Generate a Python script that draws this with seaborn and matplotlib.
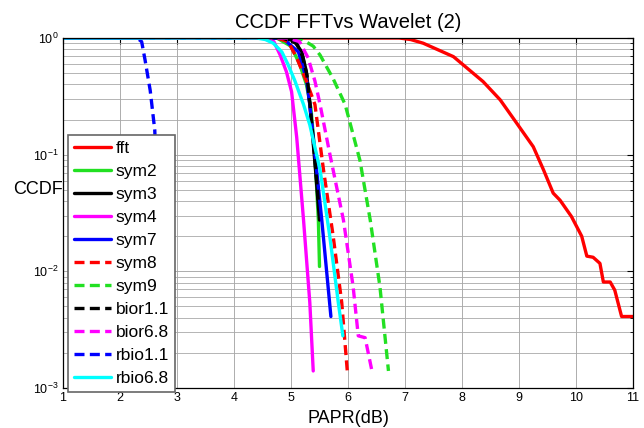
import matplotlib
matplotlib.use("Agg")
import matplotlib.pyplot as plt
import seaborn as sns
import pandas as pd
import numpy as np

# ---- data (PAPR in dB, CCDF values) ----
fft_x = [1, 6.9, 7.1, 7.32, 7.85, 8.37, 8.67, 8.96, 9.25, 9.43, 9.60, 9.72, 9.92, 10.10, 10.19, 10.30, 10.42, 10.48, 10.60, 10.68, 10.80, 11.0]
fft_y = [1, 1, 0.97, 0.902, 0.692, 0.423, 0.295, 0.186, 0.117, 0.0741, 0.0468, 0.0407, 0.0295, 0.0200, 0.0135, 0.0132, 0.0117, 0.0081, 0.0081, 0.0069, 0.0041, 0.0041]

sym2_x = [1, 4.75, 5.0, 5.15, 5.27, 5.35, 5.42, 5.48, 5.50]
sym2_y = [1, 1, 0.85, 0.60, 0.40, 0.25, 0.10, 0.0275, 0.011]

sym3_x = [1, 4.8, 5.05, 5.19, 5.27, 5.33, 5.42, 5.50]
sym3_y = [1, 1, 0.95, 0.759, 0.513, 0.269, 0.0851, 0.0275]

sym4_x = [1, 4.5, 4.7, 4.81, 4.92, 5.01, 5.10, 5.22, 5.33, 5.39]
sym4_y = [1, 1, 0.93, 0.714, 0.513, 0.347, 0.141, 0.0275, 0.0054, 0.0014]

sym7_x = [1, 4.85, 5.13, 5.27, 5.33, 5.39, 5.54, 5.70]
sym7_y = [1, 1, 0.759, 0.447, 0.269, 0.141, 0.0275, 0.0041]

sym8_x = [1, 4.75, 4.95, 5.10, 5.27, 5.42, 5.57, 5.74, 5.89, 5.99]
sym8_y = [1, 1, 0.93, 0.676, 0.427, 0.269, 0.0741, 0.0200, 0.0054, 0.00135]

sym9_x = [1, 4.9, 5.2, 5.39, 5.51, 5.74, 5.95, 6.21, 6.39, 6.56, 6.71]
sym9_y = [1, 1, 0.97, 0.851, 0.714, 0.447, 0.269, 0.0891, 0.0275, 0.0074, 0.0014]

bior11_x = [1, 4.85, 5.1, 5.2, 5.28, 5.34, 5.42, 5.48]
bior11_y = [1, 1, 0.9, 0.70, 0.48, 0.25, 0.09, 0.04]

bior68_x = [1, 4.95, 5.15, 5.30, 5.42, 5.51, 5.68, 5.92, 6.09, 6.18, 6.30, 6.42]
bior68_y = [1, 1, 0.93, 0.676, 0.427, 0.269, 0.102, 0.0275, 0.0074, 0.0028, 0.0027, 0.0014]

rbio11_x = [1, 2.3, 2.38, 2.44, 2.53, 2.61, 2.68, 2.75]
rbio11_y = [1, 1, 0.93, 0.646, 0.355, 0.162, 0.02, 0.001]

rbio68_x = [1, 4.4, 4.55, 4.69, 4.84, 4.95, 5.07, 5.22, 5.33, 5.51, 5.68, 5.83, 5.91]
rbio68_y = [1, 1, 0.97, 0.902, 0.759, 0.589, 0.427, 0.269, 0.180, 0.0741, 0.0200, 0.0054, 0.0028]

labels = ["fft", "sym2", "sym3", "sym4", "sym7", "sym8", "sym9", "bior1.1", "bior6.8", "rbio1.1", "rbio6.8"]
xs = [fft_x, sym2_x, sym3_x, sym4_x, sym7_x, sym8_x, sym9_x, bior11_x, bior68_x, rbio11_x, rbio68_x]
ys = [fft_y, sym2_y, sym3_y, sym4_y, sym7_y, sym8_y, sym9_y, bior11_y, bior68_y, rbio11_y, rbio68_y]
colors = ["#ff0000", "#22e022", "#000000", "#ff00ff", "#0000ff", "#ff0000", "#22e022", "#000000", "#ff00ff", "#0000ff", "#00ffff"]
dashed = [False, False, False, False, False, True, True, True, True, True, False]

x_ticks = list(range(1, 12))

sns.set_style("white")
plt.rcParams["font.family"] = ["Liberation Sans", "DejaVu Sans"]
plt.rcParams["text.color"] = "black"
plt.rcParams["axes.labelcolor"] = "black"
plt.rcParams["xtick.color"] = "black"
plt.rcParams["ytick.color"] = "black"

fig = plt.figure(figsize=(6.44, 4.28), dpi=100)
ax = fig.add_axes([63 / 644, 1 - 388 / 428, 570 / 644, 350 / 428])

for x, y, lab, c, d in zip(xs, ys, labels, colors, dashed):
    df = pd.DataFrame({"PAPR": x, "CCDF": y})
    sns.lineplot(data=df, x="PAPR", y="CCDF", ax=ax, color=c, lw=2.4,
                 estimator=None, sort=False, label=lab)
    if d:
        ax.lines[-1].set_dashes((3, 1.6))

ax.set_yscale("log")
ax.set_xlim(1, 11)
ax.set_ylim(1e-3, 1)
ax.set_xticks(x_ticks)
ax.set_xticklabels([str(v) for v in x_ticks])

ax.grid(True, which="major", color="#a0a0a0", lw=0.6)
ax.grid(True, which="minor", axis="y", color="#a8a8a8", lw=0.6)
ax.tick_params(which="both", direction="in", top=True, right=True, labelsize=9, pad=3,
               colors="black")
ax.tick_params(which="major", length=4)
ax.tick_params(which="minor", length=2.5)
for s in ax.spines.values():
    s.set_color("black")
    s.set_linewidth(0.9)

ax.set_title("CCDF FFTvs Wavelet (2)", fontsize=14.5, pad=7, color="black")
ax.set_xlabel("PAPR(dB)", fontsize=13, labelpad=4, color="black")
ax.set_ylabel("CCDF", fontsize=13, rotation=0, ha="right", va="center", color="black")
ax.yaxis.set_label_coords(-0.001, 0.567)

leg = ax.legend(loc="upper left", bbox_to_anchor=(0.0088, 0.723), borderaxespad=0,
                fontsize=12.5, handlelength=2.1, labelspacing=0.45, handletextpad=0.3,
                borderpad=0.35, fancybox=False, framealpha=1, edgecolor="#666666")
leg.get_frame().set_linewidth(1.2)
leg.set_zorder(10)

fig.savefig("out.png", dpi=100, facecolor="white")
